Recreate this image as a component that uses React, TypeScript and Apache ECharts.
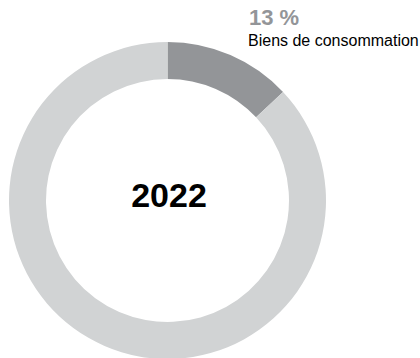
import React, { useEffect, useRef } from "react";
import * as echarts from "echarts";

const categories = ["Biens de consommation", "Autres"];
const values = [13, 87];
const colors = ["#939598", "#d1d3d4"];
const yearLabel = "2022";

export default function App() {
  const ref = useRef<HTMLDivElement>(null);
  useEffect(() => {
    if (!ref.current) return;
    const chart = echarts.init(ref.current, undefined, { renderer: "svg" });
    chart.setOption({
      animation: false,
      series: [
        {
          type: "pie",
          center: [167.5, 200.5],
          radius: [121.5, 158.5],
          startAngle: 90,
          clockwise: true,
          silent: true,
          label: { show: false },
          labelLine: { show: false },
          data: categories.map((c, i) => ({
            name: c,
            value: values[i],
            itemStyle: { color: colors[i] },
          })),
        },
      ],
      graphic: [
        {
          type: "text",
          left: 249,
          top: 6,
          style: {
            text: `${values[0]} %`,
            font: "bold 22px 'Liberation Sans', Arial, sans-serif",
            fill: "#939598",
          },
        },
        {
          type: "text",
          left: 248,
          top: 32,
          style: {
            text: categories[0],
            font: "16px 'Liberation Sans', Arial, sans-serif",
            fill: "#000000",
          },
        },
        {
          type: "text",
          x: 169,
          y: 195,
          style: {
            text: yearLabel,
            font: "bold 34px 'Liberation Sans', Arial, sans-serif",
            fill: "#000000",
            align: "center",
            verticalAlign: "middle",
          },
        },
      ],
    });
    return () => chart.dispose();
  }, []);
  return <div ref={ref} style={{ width: 420, height: 358, position: "absolute", left: 0, top: 0 }} />;
}
